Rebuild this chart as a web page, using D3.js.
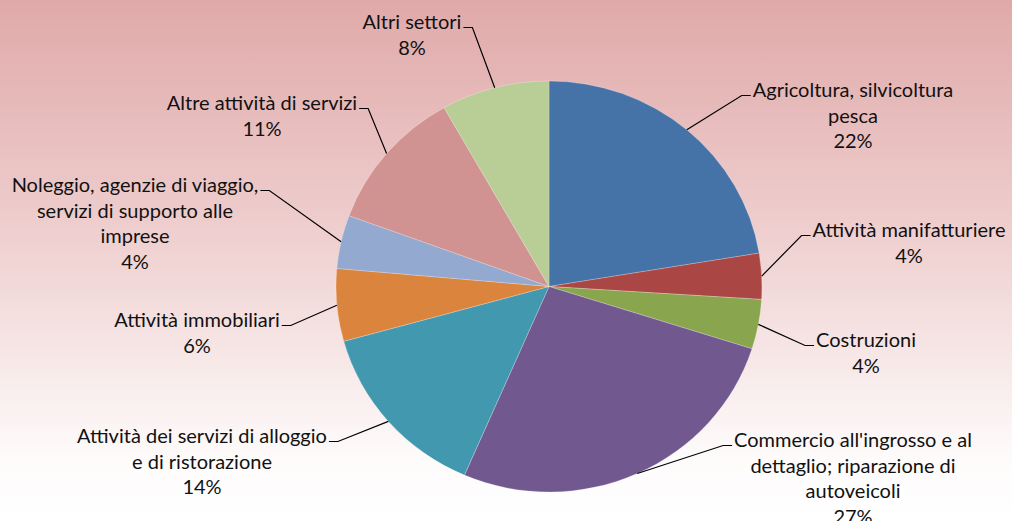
<!DOCTYPE html>
<html>
<head>
<meta charset="utf-8">
<script src="https://cdn.jsdelivr.net/npm/d3@7"></script>
<style>
  html, body { margin: 0; padding: 0; overflow: hidden; }
  svg { display: block; }
</style>
</head>
<body>
<div id="chart"></div>
<script>
// data
var categories = [
    "Agricoltura, silvicoltura|pesca",
    "Attività manifatturiere",
    "Costruzioni",
    "Commercio all'ingrosso e al|dettaglio; riparazione di|autoveicoli",
    "Attività dei servizi di alloggio|e di ristorazione",
    "Attività immobiliari",
    "Noleggio, agenzie di viaggio,|servizi di supporto alle|imprese",
    "Altre attività di servizi",
    "Altri settori"
];
var shares = [22.4, 3.6, 3.9, 26.6, 14.2, 5.7, 4.2, 11.2, 8.2];
var colors = ["#4572a7", "#aa4643", "#89a54e", "#71588f", "#4198af",
              "#db843d", "#93a9cf", "#d19392", "#b9cd96"];

// label layout: centre x of text block, baseline of first line, which end the leader meets
var labelLayout = [
    {x: 853, y: 97, side: "left"},
    {x: 909, y: 237, side: "left"},
    {x: 866, y: 347, side: "left"},
    {x: 853, y: 447, side: "left"},
    {x: 202, y: 443, side: "right"},
    {x: 197, y: 327, side: "right"},
    {x: 135, y: 192, side: "right"},
    {x: 262, y: 110, side: "right"},
    {x: 412, y: 29, side: "right"}
];

var width = 1012, height = 521;
var cx = 549, cy = 286.5, rx = 213, ry = 205.5;
var lineH = 25.5;

var svg = d3.select("#chart")
    .append("svg")
        .attr("width", width)
        .attr("height", height);

// background gradient
var grad = svg.append("defs").append("linearGradient")
    .attr("id", "bg")
    .attr("x1", 0).attr("y1", 0).attr("x2", 0).attr("y2", 1);
grad.append("stop").attr("offset", "0%").attr("stop-color", "#e0a9a9");
grad.append("stop").attr("offset", "45%").attr("stop-color", "#efcfcf");
grad.append("stop").attr("offset", "88%").attr("stop-color", "#fefbfb");
grad.append("stop").attr("offset", "100%").attr("stop-color", "#ffffff");
svg.append("rect")
    .attr("width", width)
    .attr("height", height)
    .attr("fill", "url(#bg)");

var pie = d3.pie().sort(null).value(d => d);
var arcs = pie(shares);
var arc = d3.arc().innerRadius(0).outerRadius(rx);

// slightly squashed pie, like the original
var g = svg.append("g")
    .attr("transform", "translate(" + cx + "," + cy + ") scale(1," + (ry / rx) + ")");

g.selectAll("path")
    .data(arcs)
    .enter()
    .append("path")
    .attr("d", arc)
    .attr("fill", (d, i) => colors[i])
    .attr("stroke", "#ffffff")
    .attr("stroke-opacity", 0.35)
    .attr("stroke-width", 0.7);

// labels
var total = d3.sum(shares);
var labels = svg.append("g")
    .attr("font-family", "Lato, 'Open Sans', sans-serif")
    .attr("font-size", "20px")
    .attr("fill", "#111");

arcs.forEach(function(d, i) {
    var pos = labelLayout[i];
    var lines = categories[i].split("|");
    lines.push(Math.round(shares[i] / total * 100) + "%");

    var t = labels.append("text")
        .attr("text-anchor", "middle");
    lines.forEach(function(s, k) {
        t.append("tspan")
            .attr("x", pos.x)
            .attr("y", pos.y + k * lineH)
            .text(s);
    });

    // leader line: mid-angle point on the pie edge -> elbow -> short horizontal at text
    var w = t.select("tspan").node().getComputedTextLength();
    var mid = (d.startAngle + d.endAngle) / 2;
    var ex = cx + rx * Math.sin(mid),
        ey = cy - ry * Math.cos(mid);
    var ly = pos.y - 1.5;
    var tx, bx;
    if (pos.side == "left") {
        tx = pos.x - w / 2 - 2;
        bx = tx - 9;
    } else {
        tx = pos.x + w / 2 + 2;
        bx = tx + 9;
    }
    svg.append("path")
        .attr("d", "M" + ex + "," + ey + "L" + bx + "," + ly + "L" + tx + "," + ly)
        .attr("fill", "none")
        .attr("stroke", "#000")
        .attr("stroke-width", 1.2);
});
</script>
</body>
</html>
